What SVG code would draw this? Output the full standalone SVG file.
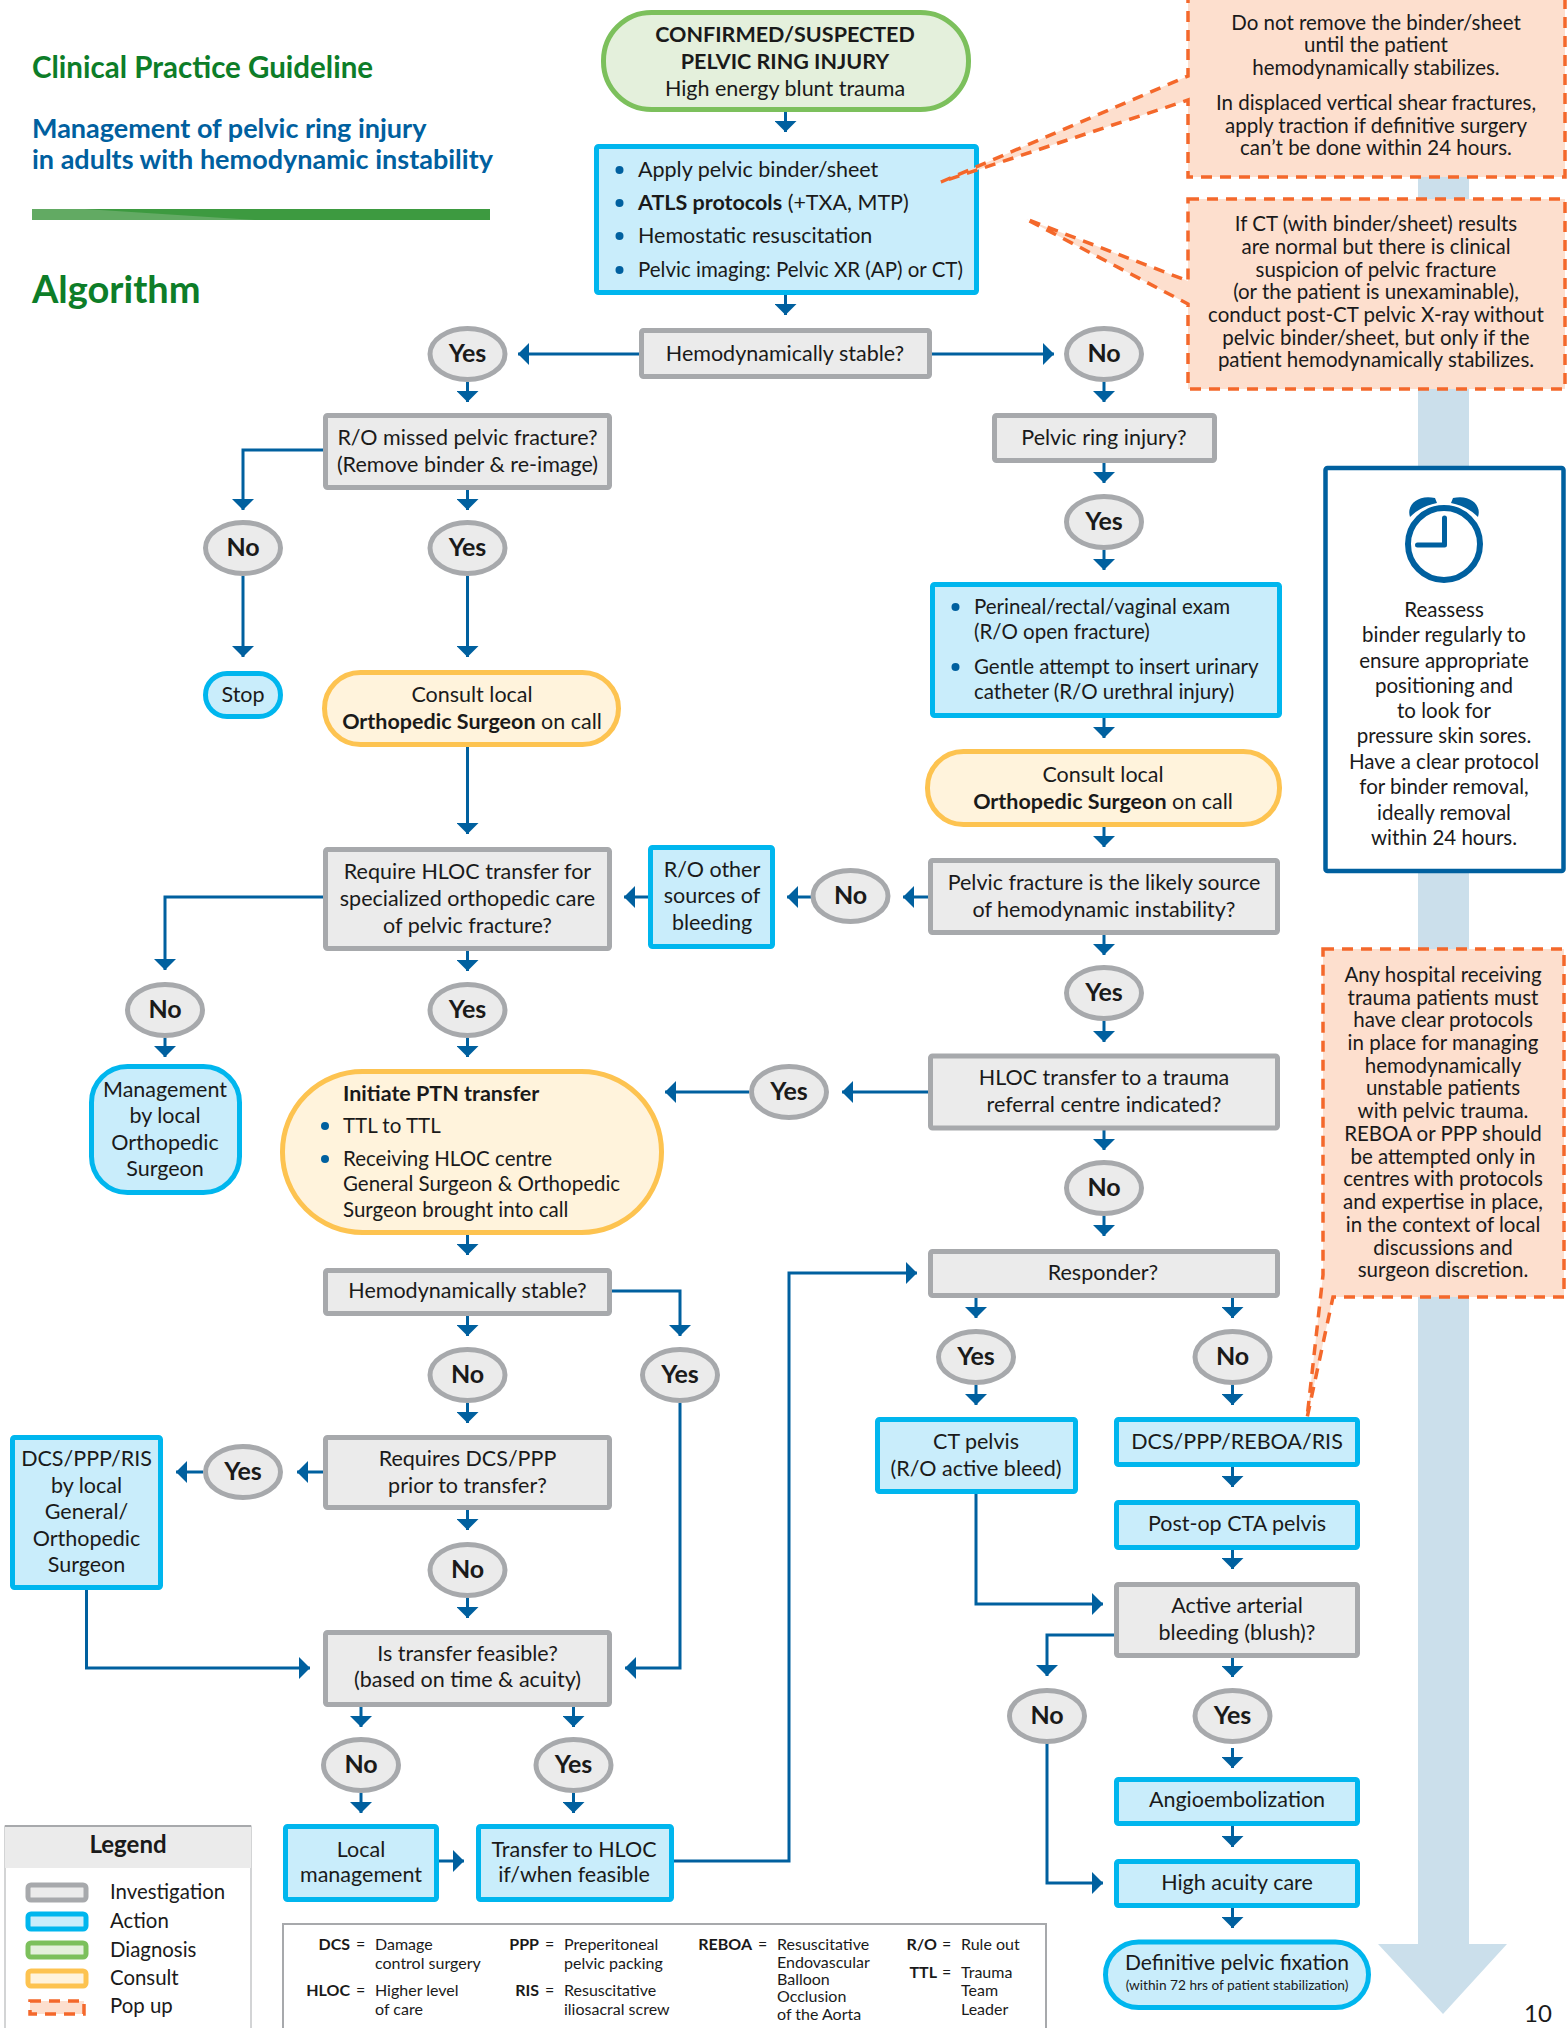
<svg xmlns="http://www.w3.org/2000/svg" width="1567" height="2028" viewBox="0 0 1567 2028">
<style>
text{font-family:Lato,"Liberation Sans",sans-serif;font-size:21.5px;fill:#1a1a1a}
.c{text-anchor:middle}.b{font-weight:700}
.lab{font-size:25px;font-weight:700;text-anchor:middle}
#popup1 text,#popup2 text,#popup3 text,#n-reassess text,#n-exam text,#n-ptn text{font-size:20.5px}
#n-ptn text.b{font-size:21.5px}
.inv{fill:#ebebeb;stroke:#a7a9ac;stroke-width:5}
.act{fill:#c9edfb;stroke:#00b6ee;stroke-width:5}
.dia{fill:#e4f0dc;stroke:#7cc05c;stroke-width:5}
.con{fill:#fff3dc;stroke:#fdc350;stroke-width:5}
.pop{fill:#fddfce;stroke:#f4682b;stroke-width:3.5;stroke-dasharray:11 8}
.ln{fill:none;stroke:#00609f;stroke-width:3;marker-end:url(#ah)}
.bul{fill:#00609f}
text.ab{font-size:16px}text.abb{font-size:16px;font-weight:700;text-anchor:end}
</style>
<defs>
<marker id="ah" markerUnits="userSpaceOnUse" markerWidth="14" markerHeight="22" refX="11" refY="11" orient="auto"><path d="M0 0L11 11L0 22Z" fill="#00609f"/></marker>
</defs>
<path id="time-arrow" fill="#cbdfeb" d="M1418 170H1469V1944H1507L1443 2014L1378 1944H1418Z"/>
<g id="title">
<text x="32" y="78" style="font-size:29.500px;font-weight:700;fill:#0d7d28">Clinical Practice Guideline</text>
<text x="32" y="138" style="font-size:27px;font-weight:700;fill:#00609f">Management of pelvic ring injury</text>
<text x="32" y="169" style="font-size:27px;font-weight:700;fill:#00609f">in adults with hemodynamic instability</text>
<rect x="32" y="209" width="458" height="11" fill="#3d9a40"/>
<path d="M32 209H85L255 220H32Z" fill="#62aa63"/>
<text x="32" y="303" style="font-size:38px;font-weight:700;fill:#0d7d28">Algorithm</text>
</g>
<g id="connectors">
<path class="ln" d="M785.500 112V132"/>
<path class="ln" d="M785.500 295V315"/>
<path class="ln" d="M639 354H518"/>
<path class="ln" d="M932 354H1054"/>
<path class="ln" d="M467.500 382V402"/>
<path class="ln" d="M1104 382V402"/>
<path class="ln" d="M323 450H243V510"/>
<path class="ln" d="M467.500 490V510"/>
<path class="ln" d="M243 576V657"/>
<path class="ln" d="M467.500 576V657"/>
<path class="ln" d="M467.500 746V834"/>
<path class="ln" d="M1104 463V483"/>
<path class="ln" d="M1104 550V570"/>
<path class="ln" d="M1104 718V738"/>
<path class="ln" d="M1104 827V847"/>
<path class="ln" d="M928 897H903"/>
<path class="ln" d="M811 897H787"/>
<path class="ln" d="M648 897H624"/>
<path class="ln" d="M323 897H165V970"/>
<path class="ln" d="M467.500 951V971"/>
<path class="ln" d="M165 1038V1057"/>
<path class="ln" d="M467.500 1038V1057"/>
<path class="ln" d="M1104 935V955"/>
<path class="ln" d="M1104 1021V1042"/>
<path class="ln" d="M928 1092H842"/>
<path class="ln" d="M749 1092H665"/>
<path class="ln" d="M1104 1130V1150"/>
<path class="ln" d="M1104 1216V1236"/>
<path class="ln" d="M467.500 1235V1255"/>
<path class="ln" d="M467.500 1316V1336"/>
<path class="ln" d="M611 1291H680V1336"/>
<path class="ln" d="M467.500 1403V1423"/>
<path class="ln" d="M680 1403V1668H625"/>
<path class="ln" d="M323 1472H297"/>
<path class="ln" d="M203 1472H176"/>
<path class="ln" d="M86.500 1590V1668H310"/>
<path class="ln" d="M467.500 1510V1530"/>
<path class="ln" d="M467.500 1598V1618"/>
<path class="ln" d="M361 1707V1727"/>
<path class="ln" d="M573.500 1707V1727"/>
<path class="ln" d="M361 1793V1813"/>
<path class="ln" d="M573.500 1793V1813"/>
<path class="ln" d="M438 1861H464"/>
<path class="ln" d="M672 1861H789V1273H917"/>
<path class="ln" d="M976 1298V1318"/>
<path class="ln" d="M1232.500 1298V1318"/>
<path class="ln" d="M976 1385V1405"/>
<path class="ln" d="M1232.500 1385V1405"/>
<path class="ln" d="M976 1494V1604H1103"/>
<path class="ln" d="M1114 1635H1047V1676"/>
<path class="ln" d="M1232.500 1467V1487"/>
<path class="ln" d="M1232.500 1549V1569"/>
<path class="ln" d="M1232.500 1657V1677"/>
<path class="ln" d="M1232.500 1748V1768"/>
<path class="ln" d="M1232.500 1825V1847"/>
<path class="ln" d="M1232.500 1906V1928"/>
<path class="ln" d="M1047 1743V1883H1103"/>
</g>
<g id="n-start"><rect class="dia" x="603.500" y="12.500" width="365" height="97" rx="48"/><text class="c b" x="785" y="42">CONFIRMED/SUSPECTED</text><text class="c b" x="785" y="69">PELVIC RING INJURY</text><text class="c" x="785" y="96">High energy blunt trauma</text></g>
<g id="n-apply"><rect class="act" x="596.500" y="146.500" width="380" height="146" rx="2"/><circle class="bul" cx="619.500" cy="170" r="4"/><circle class="bul" cx="619.500" cy="203" r="4"/><circle class="bul" cx="619.500" cy="236" r="4"/><circle class="bul" cx="619.500" cy="270" r="4"/><text x="638" y="177">Apply pelvic binder/sheet</text><text x="638" y="210"><tspan class="b">ATLS protocols</tspan> (+TXA, MTP)</text><text x="638" y="243">Hemostatic resuscitation</text><text x="638" y="277" style="font-size:20.500px">Pelvic imaging: Pelvic XR (AP) or CT)</text></g>
<g id="n-stable1"><rect class="inv" x="641.500" y="330.500" width="288" height="46" rx="2"/><text class="c" x="785" y="361">Hemodynamically stable?</text></g>
<g id="n-yes1"><ellipse class="inv" cx="467.500" cy="354" rx="37.500" ry="25.500"/><text class="lab" x="467.500" y="362">Yes</text></g>
<g id="n-no1"><ellipse class="inv" cx="1104" cy="354" rx="37.500" ry="25.500"/><text class="lab" x="1104" y="362">No</text></g>
<g id="n-missed"><rect class="inv" x="325.500" y="415.500" width="284" height="72" rx="2"/><text class="c" x="467.500" y="445">R/O missed pelvic fracture?</text><text class="c" x="467.500" y="472">(Remove binder &amp; re-image)</text></g>
<g id="n-no2"><ellipse class="inv" cx="243" cy="548" rx="37.500" ry="25.500"/><text class="lab" x="243" y="556">No</text></g>
<g id="n-yes2"><ellipse class="inv" cx="467.500" cy="548" rx="37.500" ry="25.500"/><text class="lab" x="467.500" y="556">Yes</text></g>
<g id="n-stop"><rect class="act" x="205.500" y="673.500" width="75" height="43" rx="21.500"/><text class="c" x="243" y="702">Stop</text></g>
<g id="n-consult1"><rect class="con" x="324.500" y="672.500" width="294" height="72" rx="36"/><text class="c" x="472" y="702">Consult local</text><text class="c" x="472" y="729"><tspan class="b">Orthopedic Surgeon</tspan> on call</text></g>
<g id="n-ringinjury"><rect class="inv" x="994.500" y="415.500" width="220" height="45" rx="2"/><text class="c" x="1104" y="445">Pelvic ring injury?</text></g>
<g id="n-yes3"><ellipse class="inv" cx="1104" cy="522" rx="37.500" ry="25.500"/><text class="lab" x="1104" y="530">Yes</text></g>
<g id="n-exam"><rect class="act" x="932.500" y="584.500" width="347" height="131" rx="2"/><circle class="bul" cx="955.500" cy="607" r="4"/><circle class="bul" cx="955.500" cy="667" r="4"/><text x="974" y="614">Perineal/rectal/vaginal exam</text><text x="974" y="639">(R/O open fracture)</text><text x="974" y="674">Gentle attempt to insert urinary</text><text x="974" y="699">catheter (R/O urethral injury)</text></g>
<g id="n-consult2"><rect class="con" x="927.500" y="751.500" width="352" height="73" rx="36"/><text class="c" x="1103" y="782">Consult local</text><text class="c" x="1103" y="809"><tspan class="b">Orthopedic Surgeon</tspan> on call</text></g>
<g id="n-source"><rect class="inv" x="930.500" y="860.500" width="347" height="72" rx="2"/><text class="c" x="1104" y="890">Pelvic fracture is the likely source</text><text class="c" x="1104" y="917">of hemodynamic instability?</text></g>
<g id="n-no3"><ellipse class="inv" cx="850.500" cy="896" rx="37.500" ry="25.500"/><text class="lab" x="850.500" y="904">No</text></g>
<g id="n-other"><rect class="act" x="650.500" y="847.500" width="122" height="99" rx="2"/><text class="c" x="712" y="877">R/O other</text><text class="c" x="712" y="903">sources of</text><text class="c" x="712" y="930">bleeding</text></g>
<g id="n-require"><rect class="inv" x="325.500" y="849.500" width="284" height="99" rx="2"/><text class="c" x="467.500" y="879">Require HLOC transfer for</text><text class="c" x="467.500" y="906">specialized orthopedic care</text><text class="c" x="467.500" y="933">of pelvic fracture?</text></g>
<g id="n-no4"><ellipse class="inv" cx="165" cy="1010" rx="37.500" ry="25.500"/><text class="lab" x="165" y="1018">No</text></g>
<g id="n-yes4"><ellipse class="inv" cx="467.500" cy="1010" rx="37.500" ry="25.500"/><text class="lab" x="467.500" y="1018">Yes</text></g>
<g id="n-mgmt"><rect class="act" x="91.500" y="1066.500" width="148" height="126" rx="36"/><text class="c" x="165" y="1097">Management</text><text class="c" x="165" y="1123">by local</text><text class="c" x="165" y="1150">Orthopedic</text><text class="c" x="165" y="1176">Surgeon</text></g>
<g id="n-ptn"><rect class="con" x="282.500" y="1071.500" width="379" height="161" rx="80"/><circle class="bul" cx="325" cy="1126" r="4"/><circle class="bul" cx="325" cy="1159" r="4"/><text class="b" x="343" y="1101">Initiate PTN transfer</text><text x="343" y="1133">TTL to TTL</text><text x="343" y="1166">Receiving HLOC centre</text><text x="343" y="1191">General Surgeon &amp; Orthopedic</text><text x="343" y="1217">Surgeon brought into call</text></g>
<g id="n-yes5"><ellipse class="inv" cx="789" cy="1092" rx="37.500" ry="25.500"/><text class="lab" x="789" y="1100">Yes</text></g>
<g id="n-yes6"><ellipse class="inv" cx="1104" cy="993" rx="37.500" ry="25.500"/><text class="lab" x="1104" y="1001">Yes</text></g>
<g id="n-hloc"><rect class="inv" x="930.500" y="1056" width="347" height="72" rx="2"/><text class="c" x="1104" y="1085">HLOC transfer to a trauma</text><text class="c" x="1104" y="1112">referral centre indicated?</text></g>
<g id="n-no5"><ellipse class="inv" cx="1104" cy="1188" rx="37.500" ry="25.500"/><text class="lab" x="1104" y="1196">No</text></g>
<g id="n-responder"><rect class="inv" x="930.500" y="1251.500" width="347" height="44" rx="2"/><text class="c" x="1103" y="1280">Responder?</text></g>
<g id="n-yes7"><ellipse class="inv" cx="976" cy="1357" rx="37.500" ry="25.500"/><text class="lab" x="976" y="1365">Yes</text></g>
<g id="n-no6"><ellipse class="inv" cx="1232.500" cy="1357" rx="37.500" ry="25.500"/><text class="lab" x="1232.500" y="1365">No</text></g>
<g id="n-ct"><rect class="act" x="877.500" y="1419.500" width="198" height="72" rx="2"/><text class="c" x="976" y="1449">CT pelvis</text><text class="c" x="976" y="1476">(R/O active bleed)</text></g>
<g id="n-dcs"><rect class="act" x="1116.500" y="1419.500" width="241" height="45" rx="2"/><text class="c" x="1237" y="1449">DCS/PPP/REBOA/RIS</text></g>
<g id="n-postop"><rect class="act" x="1116.500" y="1502.500" width="241" height="45" rx="2"/><text class="c" x="1237" y="1531">Post-op CTA pelvis</text></g>
<g id="n-active"><rect class="inv" x="1116.500" y="1584.500" width="241" height="71" rx="2"/><text class="c" x="1237" y="1613">Active arterial</text><text class="c" x="1237" y="1640">bleeding (blush)?</text></g>
<g id="n-no7"><ellipse class="inv" cx="1047" cy="1716" rx="37.500" ry="25.500"/><text class="lab" x="1047" y="1724">No</text></g>
<g id="n-yes8"><ellipse class="inv" cx="1232.500" cy="1716" rx="37.500" ry="25.500"/><text class="lab" x="1232.500" y="1724">Yes</text></g>
<g id="n-angio"><rect class="act" x="1116.500" y="1779.500" width="241" height="44" rx="2"/><text class="c" x="1237" y="1807">Angioembolization</text></g>
<g id="n-acuity"><rect class="act" x="1116.500" y="1861.500" width="241" height="44" rx="2"/><text class="c" x="1237" y="1890">High acuity care</text></g>
<g id="n-fixation"><rect class="act" x="1105.500" y="1942" width="263" height="65.500" rx="33"/><text class="c" x="1237" y="1970" style="font-size:21px">Definitive pelvic fixation</text><text class="c" x="1237" y="1990" style="font-size:13.700px">(within 72 hrs of patient stabilization)</text></g>
<g id="n-stable2"><rect class="inv" x="325.500" y="1270.500" width="284" height="43" rx="2"/><text class="c" x="467.500" y="1298">Hemodynamically stable?</text></g>
<g id="n-no8"><ellipse class="inv" cx="467.500" cy="1375" rx="37.500" ry="25.500"/><text class="lab" x="467.500" y="1383">No</text></g>
<g id="n-yes9"><ellipse class="inv" cx="680" cy="1375" rx="37.500" ry="25.500"/><text class="lab" x="680" y="1383">Yes</text></g>
<g id="n-requires"><rect class="inv" x="325.500" y="1437.500" width="284" height="70" rx="2"/><text class="c" x="467.500" y="1466">Requires DCS/PPP</text><text class="c" x="467.500" y="1493">prior to transfer?</text></g>
<g id="n-yes10"><ellipse class="inv" cx="243" cy="1472" rx="37.500" ry="25.500"/><text class="lab" x="243" y="1480">Yes</text></g>
<g id="n-dcslocal"><rect class="act" x="12.500" y="1437.500" width="148" height="150" rx="2"/><text class="c" x="86.500" y="1466">DCS/PPP/RIS</text><text class="c" x="86.500" y="1493">by local</text><text class="c" x="86.500" y="1519">General/</text><text class="c" x="86.500" y="1546">Orthopedic</text><text class="c" x="86.500" y="1572">Surgeon</text></g>
<g id="n-no9"><ellipse class="inv" cx="467.500" cy="1570" rx="37.500" ry="25.500"/><text class="lab" x="467.500" y="1578">No</text></g>
<g id="n-feasible"><rect class="inv" x="325.500" y="1632.500" width="284" height="72" rx="2"/><text class="c" x="467.500" y="1661">Is transfer feasible?</text><text class="c" x="467.500" y="1687">(based on time &amp; acuity)</text></g>
<g id="n-no10"><ellipse class="inv" cx="361" cy="1765" rx="37.500" ry="25.500"/><text class="lab" x="361" y="1773">No</text></g>
<g id="n-yes11"><ellipse class="inv" cx="573.500" cy="1765" rx="37.500" ry="25.500"/><text class="lab" x="573.500" y="1773">Yes</text></g>
<g id="n-local"><rect class="act" x="285.500" y="1826.500" width="151" height="73" rx="2"/><text class="c" x="361" y="1857">Local</text><text class="c" x="361" y="1882">management</text></g>
<g id="n-transfer"><rect class="act" x="478.500" y="1826.500" width="193" height="73" rx="2"/><text class="c" x="574" y="1857">Transfer to HLOC</text><text class="c" x="574" y="1882">if/when feasible</text></g>
<g id="popup1"><path class="pop" d="M1188 -5H1565V177H1188V100L941 182L1188 76Z"/><text class="c" x="1376" y="30">Do not remove the binder/sheet</text><text class="c" x="1376" y="52">until the patient</text><text class="c" x="1376" y="75">hemodynamically stabilizes.</text><text class="c" x="1376" y="110">In displaced vertical shear fractures,</text><text class="c" x="1376" y="133">apply traction if definitive surgery</text><text class="c" x="1376" y="155">can’t be done within 24 hours.</text></g>
<g id="popup2"><path class="pop" d="M1188 199H1565V389H1188V304L1026 219L1188 281Z"/><text class="c" x="1376" y="231">If CT (with binder/sheet) results</text><text class="c" x="1376" y="254">are normal but there is clinical</text><text class="c" x="1376" y="277">suspicion of pelvic fracture</text><text class="c" x="1376" y="299">(or the patient is unexaminable),</text><text class="c" x="1376" y="322">conduct post-CT pelvic X-ray without</text><text class="c" x="1376" y="345">pelvic binder/sheet, but only if the</text><text class="c" x="1376" y="367">patient hemodynamically stabilizes.</text></g>
<g id="popup3"><path class="pop" d="M1323 949H1564V1297H1333L1307 1418L1323 1275Z"/><text class="c" x="1443" y="982">Any hospital receiving</text><text class="c" x="1443" y="1005">trauma patients must</text><text class="c" x="1443" y="1027">have clear protocols</text><text class="c" x="1443" y="1050">in place for managing</text><text class="c" x="1443" y="1073">hemodynamically</text><text class="c" x="1443" y="1095">unstable patients</text><text class="c" x="1443" y="1118">with pelvic trauma.</text><text class="c" x="1443" y="1141">REBOA or PPP should</text><text class="c" x="1443" y="1164">be attempted only in</text><text class="c" x="1443" y="1186">centres with protocols</text><text class="c" x="1443" y="1209">and expertise in place,</text><text class="c" x="1443" y="1232">in the context of local</text><text class="c" x="1443" y="1255">discussions and</text><text class="c" x="1443" y="1277">surgeon discretion.</text></g>
<g id="n-reassess"><rect x="1325.500" y="468" width="238" height="403" fill="#fff" stroke="#00609f" stroke-width="4.500" rx="2"/>
<ellipse cx="1444" cy="544" rx="36" ry="36" fill="none" stroke="#00609f" stroke-width="6"/><path d="M1444.500 518V545H1417.500" fill="none" stroke="#00609f" stroke-width="5" stroke-linecap="round" stroke-linejoin="round"/><path d="M1410 517C1406 505 1418 494 1435 498L1437 503C1426 505 1417 510 1410 517Z" fill="#00609f"/><path d="M1478 517C1482 505 1470 494 1453 498L1451 503C1462 505 1471 510 1478 517Z" fill="#00609f"/>
<text class="c" x="1444" y="617">Reassess</text><text class="c" x="1444" y="642">binder regularly to</text><text class="c" x="1444" y="668">ensure appropriate</text><text class="c" x="1444" y="693">positioning and</text><text class="c" x="1444" y="718">to look for</text><text class="c" x="1444" y="743">pressure skin sores.</text><text class="c" x="1444" y="769">Have a clear protocol</text><text class="c" x="1444" y="794">for binder removal,</text><text class="c" x="1444" y="820">ideally removal</text><text class="c" x="1444" y="845">within 24 hours.</text></g>
<g id="legend"><rect x="5" y="1826" width="246" height="210" fill="#fff" stroke="#a7a9ac" stroke-width="1"/><rect x="5" y="1826" width="246" height="42" fill="#ebebeb"/><path d="M5 1826H251" stroke="#a7a9ac" stroke-width="2"/><text class="c b" x="128" y="1853" style="font-size:24px">Legend</text>
<rect class="inv" x="28" y="1885" width="58" height="15" rx="3"/><rect class="act" x="28" y="1914" width="58" height="15" rx="3"/><rect class="dia" x="28" y="1943" width="58" height="14" rx="3"/><rect class="con" x="28" y="1971" width="58" height="15" rx="3"/><rect class="pop" x="30" y="2001" width="54" height="13"/>
<text x="110" y="1899" style="font-size:20.400px">Investigation</text><text x="110" y="1928" style="font-size:20.400px">Action</text><text x="110" y="1957" style="font-size:20.400px">Diagnosis</text><text x="110" y="1985" style="font-size:20.400px">Consult</text><text x="110" y="2013" style="font-size:20.400px">Pop up</text></g>
<g id="abbreviations"><rect x="283" y="1924" width="763" height="115" fill="#fff" stroke="#a7a9ac" stroke-width="2"/>
<text class="abb" x="350" y="1950">DCS</text><text class="ab" x="356" y="1950">=</text><text class="ab" x="375" y="1950">Damage</text><text class="ab" x="375" y="1969">control surgery</text>
<text class="abb" x="350" y="1996">HLOC</text><text class="ab" x="356" y="1996">=</text><text class="ab" x="375" y="1996">Higher level</text><text class="ab" x="375" y="2015">of care</text>
<text class="abb" x="539" y="1950">PPP</text><text class="ab" x="545" y="1950">=</text><text class="ab" x="564" y="1950">Preperitoneal</text><text class="ab" x="564" y="1969">pelvic packing</text>
<text class="abb" x="539" y="1996">RIS</text><text class="ab" x="545" y="1996">=</text><text class="ab" x="564" y="1996">Resuscitative</text><text class="ab" x="564" y="2015">iliosacral screw</text>
<text class="abb" x="752" y="1950">REBOA</text><text class="ab" x="758" y="1950">=</text><text class="ab" x="777" y="1950">Resuscitative</text><text class="ab" x="777" y="1968">Endovascular</text><text class="ab" x="777" y="1985">Balloon</text><text class="ab" x="777" y="2002">Occlusion</text><text class="ab" x="777" y="2020">of the Aorta</text>
<text class="abb" x="937" y="1950">R/O</text><text class="ab" x="942" y="1950">=</text><text class="ab" x="961" y="1950">Rule out</text>
<text class="abb" x="937" y="1978">TTL</text><text class="ab" x="942" y="1978">=</text><text class="ab" x="961" y="1978">Trauma</text><text class="ab" x="961" y="1996">Team</text><text class="ab" x="961" y="2015">Leader</text></g>
<text id="page" x="1524" y="2022" style="font-size:24px">10</text>
</svg>
